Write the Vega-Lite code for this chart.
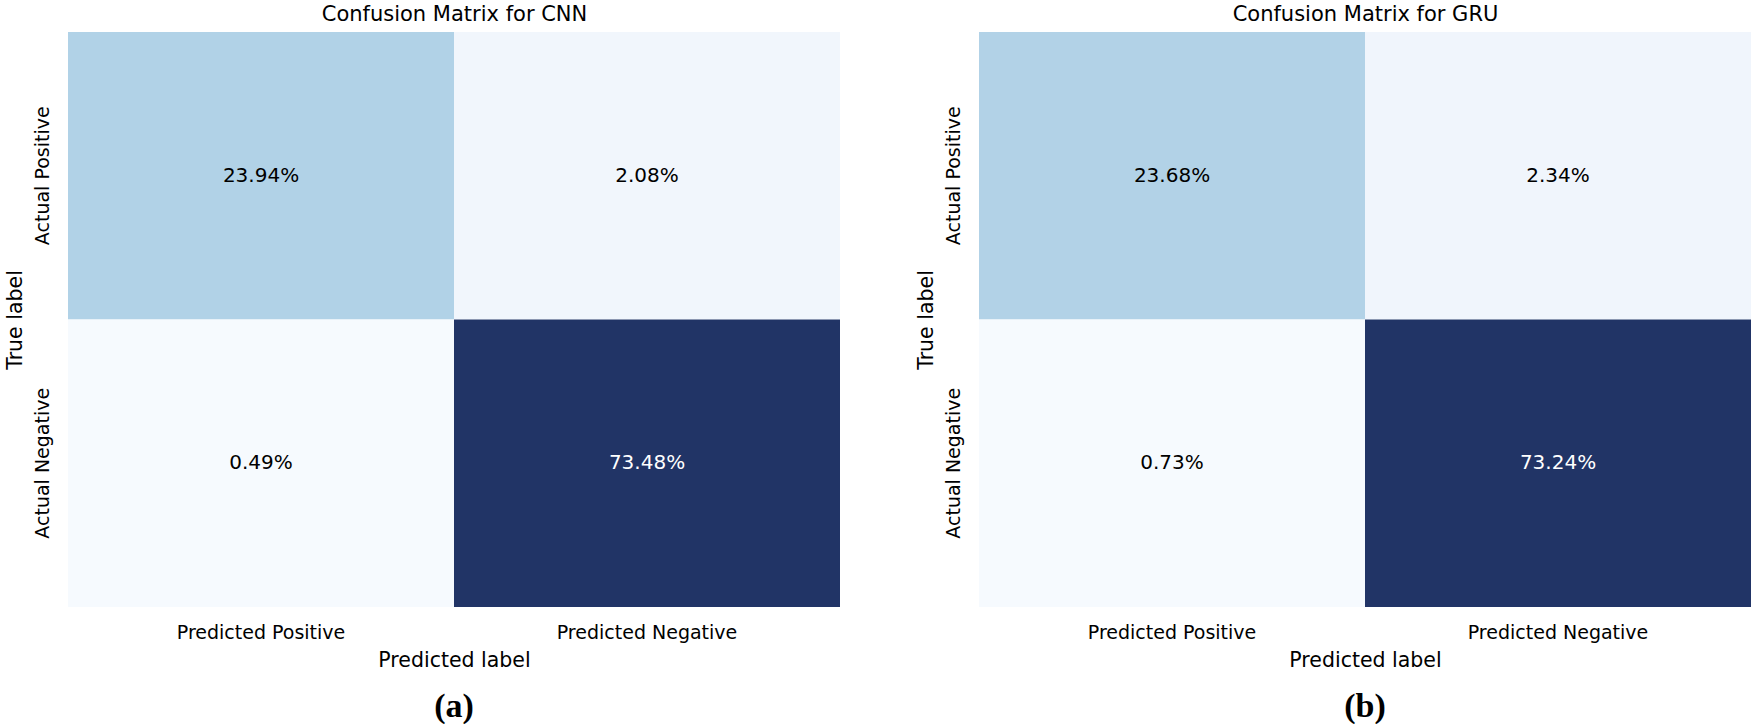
{
  "$schema": "https://vega.github.io/schema/vega-lite/v6.json",
  "padding": {"left": 4, "top": 3, "right": 0, "bottom": 0},
  "background": "white",
  "config": {
    "view": {"stroke": null},
    "font": "DejaVu Sans",
    "concat": {"spacing": 75}
  },
  "resolve": {"scale": {"color": "independent"}},
  "hconcat": [
    {
      "width": 772,
      "height": 575,
      "data": {"values": [
        {"pred": "Predicted Positive", "actual": "Actual Positive", "pct": 23.94, "label": "23.94%"},
        {"pred": "Predicted Negative", "actual": "Actual Positive", "pct": 2.08, "label": "2.08%"},
        {"pred": "Predicted Positive", "actual": "Actual Negative", "pct": 0.49, "label": "0.49%"},
        {"pred": "Predicted Negative", "actual": "Actual Negative", "pct": 73.48, "label": "73.48%"}
      ]},
      "title": {"text": "(a)", "orient": "bottom", "font": "Liberation Serif", "fontSize": 34, "fontWeight": "bold", "color": "black", "offset": 19},
      "layer": [
        {
          "mark": {"type": "rect"},
          "encoding": {
            "x": {"field": "pred", "type": "nominal", "sort": ["Predicted Positive", "Predicted Negative"], "scale": {"paddingInner": 0, "paddingOuter": 0},
              "axis": {"title": "Predicted label", "orient": "bottom", "labelAngle": 0, "labelLimit": 0, "ticks": false, "tickSize": 0, "domain": false, "labelPadding": 16, "labelFontSize": 19, "titleFontSize": 20.5, "titlePadding": 8, "labelColor": "black", "titleColor": "black", "titleFontWeight": "normal"}},
            "y": {"field": "actual", "type": "nominal", "sort": ["Actual Positive", "Actual Negative"], "scale": {"paddingInner": 0, "paddingOuter": 0},
              "axis": {"title": "True label", "orient": "left", "labelAngle": -90, "labelLimit": 0, "ticks": false, "tickSize": 0, "domain": false, "labelPadding": 16, "labelFontSize": 19, "titleFontSize": 20.5, "titlePadding": 8, "labelColor": "black", "titleColor": "black", "titleFontWeight": "normal"}},
            "color": {"field": "pct", "type": "quantitative", "legend": null,
              "scale": {"domain": [0.49, 2.08, 23.94, 73.48], "range": ["#f6fafe", "#f1f6fc", "#b1d2e7", "#213466"]}}
          }
        },
        {
          "mark": {"type": "text", "fontSize": 20},
          "encoding": {
            "x": {"field": "pred", "type": "nominal", "sort": ["Predicted Positive", "Predicted Negative"],
              "axis": {"orient": "top", "title": "Confusion Matrix for CNN", "labels": false, "ticks": false, "tickSize": 0, "domain": false, "titleFontSize": 21, "titlePadding": 8, "titleColor": "black", "titleFontWeight": "normal"}},
            "y": {"field": "actual", "type": "nominal", "sort": ["Actual Positive", "Actual Negative"],
              "axis": {"title": "True label", "orient": "left", "labelAngle": -90, "labelLimit": 0, "ticks": false, "tickSize": 0, "domain": false, "labelPadding": 16, "labelFontSize": 19, "titleFontSize": 20.5, "titlePadding": 8, "labelColor": "black", "titleColor": "black", "titleFontWeight": "normal"}},
            "text": {"field": "label"},
            "color": {"condition": {"test": "datum.pct > 50", "value": "white"}, "value": "black"}
          }
        }
      ],
      "resolve": {"axis": {"x": "independent"}}
    },
    {
      "width": 772,
      "height": 575,
      "data": {"values": [
        {"pred": "Predicted Positive", "actual": "Actual Positive", "pct": 23.68, "label": "23.68%"},
        {"pred": "Predicted Negative", "actual": "Actual Positive", "pct": 2.34, "label": "2.34%"},
        {"pred": "Predicted Positive", "actual": "Actual Negative", "pct": 0.73, "label": "0.73%"},
        {"pred": "Predicted Negative", "actual": "Actual Negative", "pct": 73.24, "label": "73.24%"}
      ]},
      "title": {"text": "(b)", "orient": "bottom", "font": "Liberation Serif", "fontSize": 34, "fontWeight": "bold", "color": "black", "offset": 19},
      "layer": [
        {
          "mark": {"type": "rect"},
          "encoding": {
            "x": {"field": "pred", "type": "nominal", "sort": ["Predicted Positive", "Predicted Negative"], "scale": {"paddingInner": 0, "paddingOuter": 0},
              "axis": {"title": "Predicted label", "orient": "bottom", "labelAngle": 0, "labelLimit": 0, "ticks": false, "tickSize": 0, "domain": false, "labelPadding": 16, "labelFontSize": 19, "titleFontSize": 20.5, "titlePadding": 8, "labelColor": "black", "titleColor": "black", "titleFontWeight": "normal"}},
            "y": {"field": "actual", "type": "nominal", "sort": ["Actual Positive", "Actual Negative"], "scale": {"paddingInner": 0, "paddingOuter": 0},
              "axis": {"title": "True label", "orient": "left", "labelAngle": -90, "labelLimit": 0, "ticks": false, "tickSize": 0, "domain": false, "labelPadding": 16, "labelFontSize": 19, "titleFontSize": 20.5, "titlePadding": 8, "labelColor": "black", "titleColor": "black", "titleFontWeight": "normal"}},
            "color": {"field": "pct", "type": "quantitative", "legend": null,
              "scale": {"domain": [0.73, 2.34, 23.68, 73.24], "range": ["#f6fafe", "#f0f5fc", "#b2d2e7", "#213466"]}}
          }
        },
        {
          "mark": {"type": "text", "fontSize": 20},
          "encoding": {
            "x": {"field": "pred", "type": "nominal", "sort": ["Predicted Positive", "Predicted Negative"],
              "axis": {"orient": "top", "title": "Confusion Matrix for GRU", "labels": false, "ticks": false, "tickSize": 0, "domain": false, "titleFontSize": 21, "titlePadding": 8, "titleColor": "black", "titleFontWeight": "normal"}},
            "y": {"field": "actual", "type": "nominal", "sort": ["Actual Positive", "Actual Negative"],
              "axis": {"title": "True label", "orient": "left", "labelAngle": -90, "labelLimit": 0, "ticks": false, "tickSize": 0, "domain": false, "labelPadding": 16, "labelFontSize": 19, "titleFontSize": 20.5, "titlePadding": 8, "labelColor": "black", "titleColor": "black", "titleFontWeight": "normal"}},
            "text": {"field": "label"},
            "color": {"condition": {"test": "datum.pct > 50", "value": "white"}, "value": "black"}
          }
        }
      ],
      "resolve": {"axis": {"x": "independent"}}
    }
  ]
}
